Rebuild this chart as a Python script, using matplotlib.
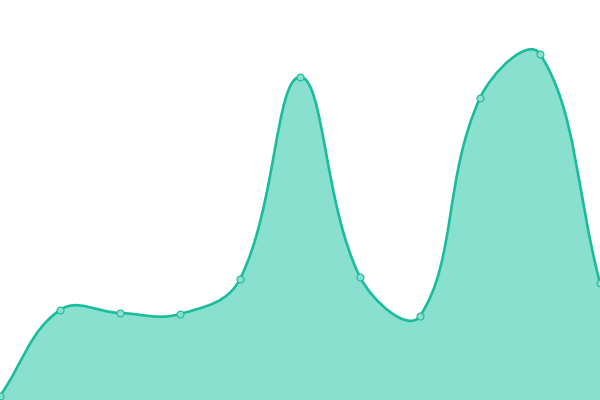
import numpy as np
import matplotlib
matplotlib.use("Agg")
import matplotlib.pyplot as plt
from matplotlib.path import Path
from matplotlib.patches import PathPatch

# values (y axis runs 0..400, one point per category)
categories = list(range(11))
values = [4, 90, 87, 86, 121, 323, 123, 84, 302, 346, 117]

LINE = "#1abc9c"
FILL = "#8ae0cf"
TENSION = 0.4

fig = plt.figure(figsize=(6, 4), dpi=100)
ax = fig.add_axes([0, 0, 1, 1])
ax.set_xlim(0, len(categories) - 1)
ax.set_ylim(0, 400)
ax.axis("off")

# work in pixel space so the smoothing looks like a canvas spline
pts = ax.transData.transform(np.column_stack([categories, values]))
n = len(pts)
cp_prev = np.zeros_like(pts)
cp_next = np.zeros_like(pts)
for i in range(n):
    prev = pts[max(i - 1, 0)]
    cur = pts[i]
    nxt = pts[min(i + 1, n - 1)]
    d01 = np.hypot(*(cur - prev))
    d12 = np.hypot(*(nxt - cur))
    tot = d01 + d12
    s01 = d01 / tot if tot else 0
    s12 = d12 / tot if tot else 0
    cp_prev[i] = cur - TENSION * s01 * (nxt - prev)
    cp_next[i] = cur + TENSION * s12 * (nxt - prev)

# keep control points inside the plotting area
bbox = ax.bbox
cp_prev[:, 1] = np.clip(cp_prev[:, 1], bbox.y0, bbox.y1)
cp_next[:, 1] = np.clip(cp_next[:, 1], bbox.y0, bbox.y1)

inv = ax.transData.inverted()
pts_d = inv.transform(pts)
cpp_d = inv.transform(cp_prev)
cpn_d = inv.transform(cp_next)

verts = [pts_d[0]]
codes = [Path.MOVETO]
for i in range(n - 1):
    verts += [cpn_d[i], cpp_d[i + 1], pts_d[i + 1]]
    codes += [Path.CURVE4] * 3

line_path = Path(verts, codes)
fill_verts = verts + [(categories[-1], 0), (categories[0], 0), verts[0]]
fill_codes = codes + [Path.LINETO, Path.LINETO, Path.CLOSEPOLY]
fill_path = Path(fill_verts, fill_codes)

ax.add_patch(PathPatch(fill_path, facecolor=FILL, edgecolor="none", zorder=1))
ax.add_patch(PathPatch(line_path, facecolor="none", edgecolor=LINE, lw=1.9, zorder=2))
ax.plot(categories, values, linestyle="none", marker="o", markersize=5,
        markerfacecolor=FILL, markeredgecolor=LINE, markeredgewidth=0.8,
        zorder=3, clip_on=False)

fig.savefig("out.png", dpi=100)
